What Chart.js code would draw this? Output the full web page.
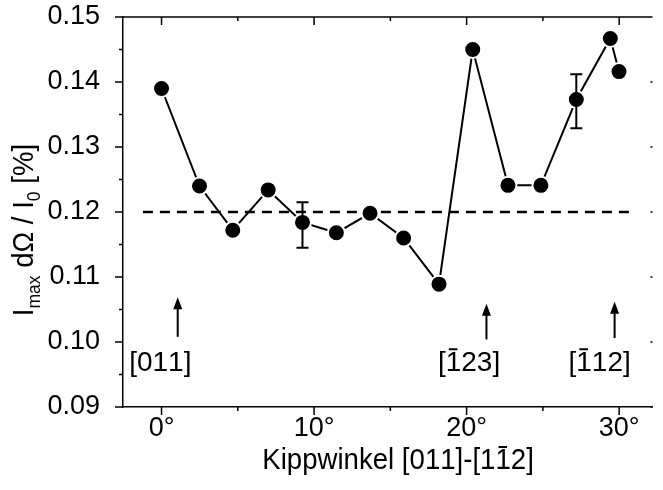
<!DOCTYPE html>
<html>
<head>
<meta charset="utf-8">
<script src="https://cdn.jsdelivr.net/npm/chart.js@4.4.1/dist/chart.umd.min.js"></script>
<style>
html, body { margin: 0; padding: 0; background: #fff; overflow: hidden; }
</style>
</head>
<body>
<canvas id="c" width="663" height="490"></canvas>
<script>
// measured series
const angles = [0, 2.49, 4.67, 6.99, 9.24, 11.46, 13.67, 15.87, 18.19, 20.40, 22.71, 24.87, 27.19, 29.42, 29.99];
const intensity = [0.1390, 0.1240, 0.1172, 0.1234, 0.1184, 0.1168, 0.1198, 0.1160, 0.1089, 0.1450, 0.1241, 0.1241, 0.1373, 0.1467, 0.1416];

// error bars
const errAngles = [9.24, 27.19];
const errLow = [0.1145, 0.1329];
const errHigh = [0.1215, 0.1412];

// dashed reference level
const refAngles = [-1.22, 30.9];
const refLevel = [0.12, 0.12];

// ticks
const xMajor = [0, 10, 20, 30];
const xMinor = [5, 15, 25];
const yMajor = [0.09, 0.10, 0.11, 0.12, 0.13, 0.14, 0.15];
const yMinor = [0.095, 0.105, 0.115, 0.125, 0.135, 0.145];

// direction markers ('~' = bar over next char)
const markText = ['[011]', '[~123]', '[~112]'];
const markArrowX = [1.06, 21.3, 29.7];
const markTip = [0.1069, 0.1059, 0.1062];
const markTail = [0.1008, 0.1004, 0.1006];
const markTextX = [-0.15, 20.16, 28.65];
const markTextY = [0.0955, 0.0955, 0.0955];

const FONT = '"Liberation Sans", Arial, sans-serif';
Chart.defaults.font.family = FONT;
Chart.defaults.color = '#000';

function drawBarred(ctx, text, x, y) {
  const chars = [];
  let bar = false;
  for (const ch of text) {
    if (ch === '~') { bar = true; continue; }
    chars.push({ ch, bar });
    bar = false;
  }
  const plain = chars.map(c => c.ch).join('');
  let cx = x - ctx.measureText(plain).width / 2;
  ctx.textAlign = 'left';
  for (const c of chars) {
    const w = ctx.measureText(c.ch).width;
    ctx.fillText(c.ch, cx, y);
    if (c.bar) ctx.fillRect(cx + w * 0.2, y - 23, w * 0.55, 2);
    cx += w;
  }
}

const decor = {
  id: 'decor',
  afterDatasetsDraw(chart) {
    const ctx = chart.ctx;
    const xs = chart.scales.x, ys = chart.scales.y;
    ctx.save();
    ctx.strokeStyle = '#000';
    ctx.lineWidth = 2;
    // error bars
    errAngles.forEach((a, i) => {
      const px = xs.getPixelForValue(a);
      const lo = ys.getPixelForValue(errLow[i]);
      const hi = ys.getPixelForValue(errHigh[i]);
      ctx.beginPath();
      ctx.moveTo(px, lo); ctx.lineTo(px, hi);
      ctx.moveTo(px - 6, lo); ctx.lineTo(px + 6, lo);
      ctx.moveTo(px - 6, hi); ctx.lineTo(px + 6, hi);
      ctx.stroke();
    });
    // arrows + labels
    ctx.fillStyle = '#000';
    markArrowX.forEach((a, i) => {
      const px = xs.getPixelForValue(a);
      const tip = ys.getPixelForValue(markTip[i]);
      const tail = ys.getPixelForValue(markTail[i]);
      ctx.beginPath();
      ctx.moveTo(px, tail); ctx.lineTo(px, tip + 8);
      ctx.stroke();
      ctx.beginPath();
      ctx.moveTo(px, tip); ctx.lineTo(px - 4.5, tip + 12); ctx.lineTo(px + 4.5, tip + 12);
      ctx.closePath();
      ctx.fill();
      ctx.font = '28px ' + FONT;
      ctx.textBaseline = 'alphabetic';
      drawBarred(ctx, markText[i], xs.getPixelForValue(markTextX[i]), ys.getPixelForValue(markTextY[i]));
    });
    ctx.restore();
  },
  afterDraw(chart) {
    const ctx = chart.ctx;
    const a = chart.chartArea;
    const xs = chart.scales.x, ys = chart.scales.y;
    ctx.save();
    ctx.strokeStyle = '#000';
    ctx.lineWidth = 1.5;
    ctx.beginPath();
    ctx.moveTo(a.left, a.top); ctx.lineTo(a.right, a.top);
    xMajor.forEach(v => {
      const p = xs.getPixelForValue(v);
      ctx.moveTo(p, a.bottom); ctx.lineTo(p, a.bottom + 8);
      ctx.moveTo(p, a.top); ctx.lineTo(p, a.top + 8);
    });
    xMinor.forEach(v => {
      const p = xs.getPixelForValue(v);
      ctx.moveTo(p, a.bottom); ctx.lineTo(p, a.bottom + 4);
      ctx.moveTo(p, a.top); ctx.lineTo(p, a.top + 4);
    });
    yMajor.forEach(v => {
      const p = ys.getPixelForValue(v);
      ctx.moveTo(a.left, p); ctx.lineTo(a.left - 8, p);
      ctx.moveTo(a.right, p); ctx.lineTo(a.right - 2, p);
    });
    yMinor.forEach(v => {
      const p = ys.getPixelForValue(v);
      ctx.moveTo(a.left, p); ctx.lineTo(a.left - 4, p);
    });
    ctx.stroke();

    ctx.fillStyle = '#000';
    ctx.textBaseline = 'alphabetic';
    // x title
    ctx.save();
    ctx.translate(396, 469);
    ctx.scale(0.92, 1);
    ctx.font = '30px ' + FONT;
    drawBarred(ctx, 'Kippwinkel [011]-[1~12]', 0, 0);
    ctx.restore();

    // y title
    const parts = [['I', false], ['max', true], [' d\u03A9 / I', false], ['0', true], [' [%]', false]];
    ctx.save();
    ctx.translate(33, 230);
    ctx.rotate(-Math.PI / 2);
    ctx.scale(0.92, 1);
    ctx.textAlign = 'left';
    let total = 0;
    parts.forEach(p => {
      ctx.font = (p[1] ? '19px ' : '30px ') + FONT;
      total += ctx.measureText(p[0]).width;
    });
    let x = -total / 2;
    parts.forEach(p => {
      ctx.font = (p[1] ? '19px ' : '30px ') + FONT;
      ctx.fillText(p[0], x, p[1] ? 7 : 0);
      x += ctx.measureText(p[0]).width;
    });
    ctx.restore();
    ctx.restore();
  }
};

new Chart(document.getElementById('c'), {
  type: 'line',
  data: {
    datasets: [
      {
        data: angles.map((a, i) => ({ x: a, y: intensity[i] })),
        borderColor: '#000',
        borderWidth: 2,
        pointRadius: 8.5,
        pointBackgroundColor: '#000',
        pointBorderColor: '#fff',
        pointBorderWidth: 2,
        tension: 0
      },
      {
        data: refAngles.map((a, i) => ({ x: a, y: refLevel[i] })),
        borderColor: '#000',
        borderWidth: 2.5,
        borderDash: [10, 7],
        pointRadius: 0
      }
    ]
  },
  options: {
    responsive: false,
    animation: false,
    layout: { padding: { top: 17, right: 0, left: 0, bottom: 0 } },
    plugins: { legend: { display: false }, tooltip: { enabled: false } },
    scales: {
      x: {
        type: 'linear',
        min: -2.526,
        max: 32.185,
        grid: { display: false },
        border: { display: true, color: '#000', width: 1.5 },
        ticks: { font: { size: 27 }, padding: -3, callback: v => v + '\u00B0' },
        afterBuildTicks: s => { s.ticks = xMajor.map(v => ({ value: v })); },
        afterFit: s => { s.height = 83; s.paddingLeft = 0; s.paddingRight = 0; }
      },
      y: {
        min: 0.09,
        max: 0.15,
        grid: { display: false },
        border: { display: true, color: '#000', width: 1.5 },
        ticks: { font: { size: 27 }, padding: 15, callback: v => v.toFixed(2) },
        afterBuildTicks: s => { s.ticks = yMajor.map(v => ({ value: v })); },
        afterFit: s => { s.width = 123; s.paddingTop = 0; s.paddingBottom = 0; }
      }
    }
  },
  plugins: [decor]
});
</script>
</body>
</html>
